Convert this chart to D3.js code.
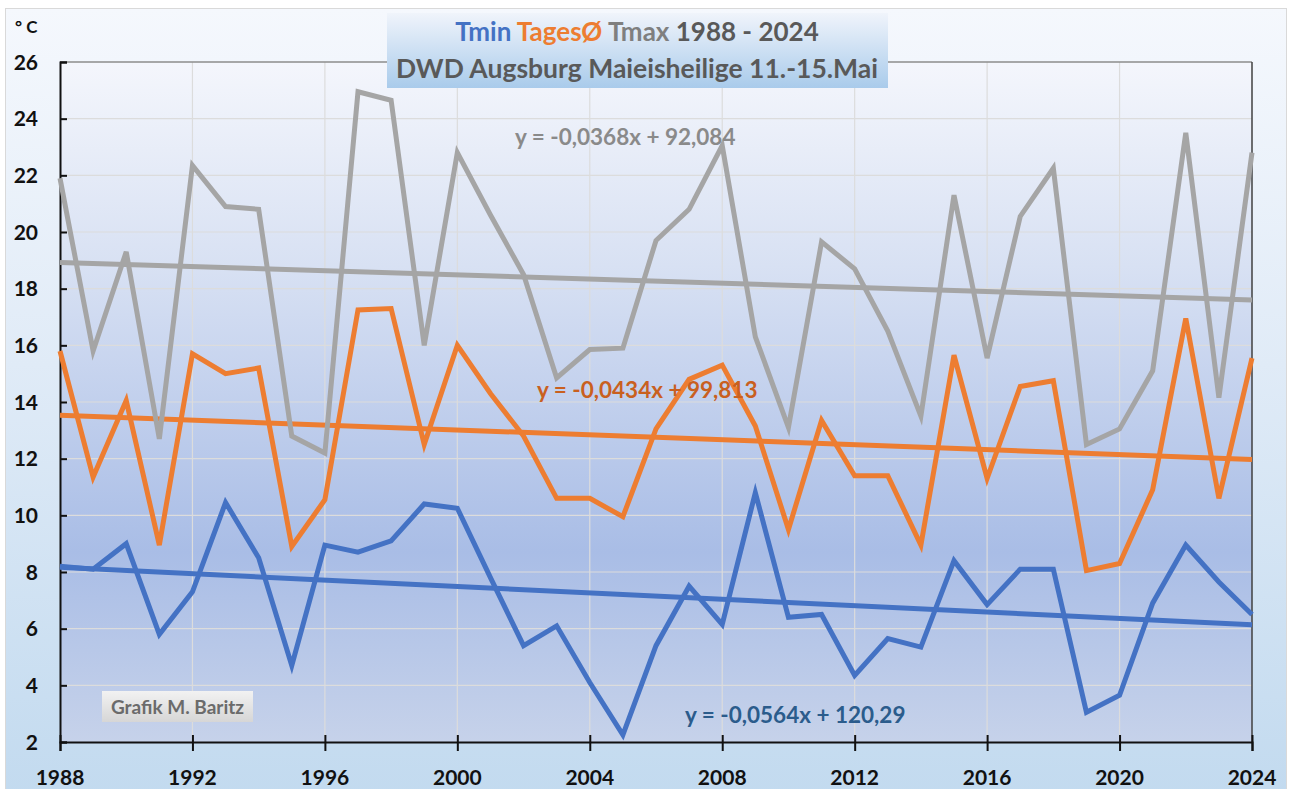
<!DOCTYPE html>
<html>
<head>
<meta charset="utf-8">
<title>Eisheilige Augsburg</title>
<script src="https://cdn.jsdelivr.net/npm/d3@7"></script>
<style>
  body { margin: 0; background: #fff; overflow: hidden; }
  text { font-family: Lato, "Open Sans", sans-serif; font-weight: bold; }
</style>
</head>
<body>
<svg id="chart" width="1290" height="789"></svg>
<script>
// values
var years = [1988, 1989, 1990, 1991, 1992, 1993, 1994, 1995, 1996, 1997, 1998, 1999,
             2000, 2001, 2002, 2003, 2004, 2005, 2006, 2007, 2008, 2009, 2010, 2011,
             2012, 2013, 2014, 2015, 2016, 2017, 2018, 2019, 2020, 2021, 2022, 2023, 2024];
var tmin = [8.2, 8.1, 9.0, 5.8, 7.3, 10.45, 8.5, 4.7, 8.95, 8.7, 9.1, 10.4,
            10.25, 7.8, 5.4, 6.1, 4.1, 2.25, 5.4, 7.5, 6.15, 10.8, 6.4, 6.5,
            4.35, 5.65, 5.35, 8.4, 6.85, 8.1, 8.1, 3.05, 3.65, 6.9, 8.95, 7.65, 6.5];
var tmittel = [15.8, 11.35, 14.05, 8.95, 15.7, 15.0, 15.2, 8.9, 10.55, 17.25, 17.3, 12.5,
               16.0, 14.3, 12.8, 10.6, 10.6, 9.95, 13.05, 14.8, 15.3, 13.15, 9.5, 13.35,
               11.4, 11.4, 8.95, 15.65, 11.3, 14.55, 14.75, 8.05, 8.3, 10.9, 16.95, 10.6, 15.55];
var tmax = [21.9, 15.8, 19.3, 12.7, 22.35, 20.9, 20.8, 12.8, 12.2, 24.95, 24.65, 16.0,
            22.8, 20.6, 18.5, 14.85, 15.85, 15.9, 19.7, 20.8, 23.05, 16.3, 13.1, 19.65,
            18.7, 16.5, 13.5, 21.3, 15.55, 20.55, 22.25, 12.5, 13.05, 15.1, 23.5, 14.15, 22.8];

var trendSlope = [-0.0564, -0.0434, -0.0368];
var trendIntercept = [120.29, 99.813, 92.084];
var trendText = ["y = -0,0564x + 120,29", "y = -0,0434x + 99,813", "y = -0,0368x + 92,084"];

var yTicks = [2, 4, 6, 8, 10, 12, 14, 16, 18, 20, 22, 24, 26];
var xTicks = [1988, 1992, 1996, 2000, 2004, 2008, 2012, 2016, 2020, 2024];

var seriesColors = ["#4472c4", "#ed7d31", "#a5a5a5"];
var labelColors = ["#2b5c8c", "#c9601f", "#8a8a8a"];

(function() {
var svg = d3.select("#chart");
var pLeft = 60, pRight = 1252, pTop = 62, pBottom = 742;

var x = d3.scaleLinear().domain([1988, 2024]).range([pLeft, pRight]);
var y = d3.scaleLinear().domain([2, 26]).range([pBottom, pTop]);

/* gradients */
var defs = svg.append("defs");
function vgrad(id, stops) {
  var g = defs.append("linearGradient").attr("id", id)
      .attr("x1", 0).attr("y1", 0).attr("x2", 0).attr("y2", 1);
  stops.forEach(function(s) {
    g.append("stop").attr("offset", s[0]).attr("stop-color", s[1]);
  });
}
vgrad("bgGrad", [[0, "#f5f8fd"], [0.45, "#e0ebf7"], [1, "#c2daef"]]);
vgrad("plotGrad", [[0, "#f4f6fc"], [0.3, "#d8e1f3"], [0.72, "#a9bde6"], [1, "#c6d2ea"]]);
vgrad("titleGrad", [[0, "#f0f4fb"], [1, "#a9cbeb"]]);
vgrad("noteGrad", [[0, "#f2f2f2"], [1, "#d6d6d6"]]);

// outer chart area
svg.append("rect")
    .attr("x", 5.5).attr("y", 8.5).attr("width", 1281).attr("height", 790)
    .attr("fill", "url(#bgGrad)").attr("stroke", "#d9d9d9");

// plot area
svg.append("rect")
    .attr("x", pLeft).attr("y", pTop).attr("width", pRight - pLeft).attr("height", pBottom - pTop)
    .attr("fill", "url(#plotGrad)");

// grid
svg.append("g").selectAll("line")
    .data(yTicks.slice(1, -1))
  .enter().append("line")
    .attr("x1", pLeft).attr("x2", pRight)
    .attr("y1", function(d) { return y(d); }).attr("y2", function(d) { return y(d); })
    .attr("stroke", "#dcdcdc").attr("stroke-width", 1.2);
svg.append("g").selectAll("line")
    .data(xTicks.slice(1, -1))
  .enter().append("line")
    .attr("y1", pTop).attr("y2", pBottom)
    .attr("x1", function(d) { return x(d); }).attr("x2", function(d) { return x(d); })
    .attr("stroke", "#dcdcdc").attr("stroke-width", 1.2);

// frame top/right
svg.append("line").attr("x1", pLeft).attr("x2", pRight).attr("y1", pTop).attr("y2", pTop)
    .attr("stroke", "#8c8c8c").attr("stroke-width", 1.5);
svg.append("line").attr("x1", pRight).attr("x2", pRight).attr("y1", pTop).attr("y2", pBottom)
    .attr("stroke", "#404040").attr("stroke-width", 1.5);

// axes
var yAxis = svg.append("g").attr("transform", "translate(" + pLeft + ",0)")
    .call(d3.axisRight(y).tickValues(yTicks).tickSize(7).tickFormat(""));
var xAxis = svg.append("g").attr("transform", "translate(0," + pBottom + ")")
    .call(d3.axisBottom(x).tickValues(xTicks).tickSize(9).tickFormat(""));
xAxis.selectAll(".tick line").attr("y1", -7);
[yAxis, xAxis].forEach(function(a) {
  a.select(".domain").attr("stroke", "#111").attr("stroke-width", 2);
  a.selectAll(".tick line").attr("stroke", "#111").attr("stroke-width", 2);
});

svg.append("g").selectAll("text")
    .data(yTicks)
  .enter().append("text")
    .attr("x", 38).attr("y", function(d) { return y(d); })
    .attr("dy", "0.36em").attr("text-anchor", "end")
    .attr("font-size", 21).attr("fill", "#111")
    .text(function(d) { return d; });
svg.append("g").selectAll("text")
    .data(xTicks)
  .enter().append("text")
    .attr("x", function(d) { return x(d); }).attr("y", 777)
    .attr("dy", "0.36em").attr("text-anchor", "middle")
    .attr("font-size", 21).attr("fill", "#111")
    .text(function(d) { return d; });

svg.append("text").attr("x", 15).attr("y", 33)
    .attr("font-size", 17).attr("fill", "#111").text("° C");

// data lines and trends
var series = [tmin, tmittel, tmax];
var line = d3.line()
    .x(function(d) { return x(d[0]); })
    .y(function(d) { return y(d[1]); });

series.forEach(function(vals, i) {
  var first = years[0], last = years[years.length - 1];
  svg.append("path")
      .datum([[first, trendSlope[i] * first + trendIntercept[i]],
              [last, trendSlope[i] * last + trendIntercept[i]]])
      .attr("d", line)
      .attr("fill", "none").attr("stroke", seriesColors[i]).attr("stroke-width", 5);
});
series.forEach(function(vals, i) {
  svg.append("path")
      .datum(years.map(function(yr, k) { return [yr, vals[k]]; }))
      .attr("d", line)
      .attr("fill", "none").attr("stroke", seriesColors[i]).attr("stroke-width", 5)
      .attr("stroke-linejoin", "miter");
});

// trend equations
var eqPos = [[685, 715], [537, 390], [515, 137]];
svg.append("g").selectAll("text")
    .data(trendText)
  .enter().append("text")
    .attr("x", function(d, i) { return eqPos[i][0]; })
    .attr("y", function(d, i) { return eqPos[i][1]; })
    .attr("dy", "0.36em")
    .attr("font-size", 22.5)
    .attr("fill", function(d, i) { return labelColors[i]; })
    .text(function(d) { return d; });

// title box
svg.append("rect").attr("x", 387).attr("y", 13).attr("width", 501).attr("height", 75)
    .attr("fill", "url(#titleGrad)");
var t1 = svg.append("text").attr("x", 637).attr("y", 32).attr("dy", "0.36em")
    .attr("text-anchor", "middle").attr("font-size", 26);
[["Tmin ", "#4472c4"], ["TagesØ ", "#ed7d31"], ["Tmax ", "#7f7f7f"], ["1988 - 2024", "#595959"]]
  .forEach(function(p) { t1.append("tspan").attr("fill", p[1]).text(p[0]); });
svg.append("text").attr("x", 637).attr("y", 68).attr("dy", "0.36em")
    .attr("text-anchor", "middle").attr("font-size", 26.5).attr("fill", "#595959")
    .text("DWD Augsburg Maieisheilige 11.-15.Mai");

// author note
svg.append("rect").attr("x", 102).attr("y", 691).attr("width", 151).attr("height", 31)
    .attr("fill", "url(#noteGrad)");
svg.append("text").attr("x", 177.5).attr("y", 707).attr("dy", "0.36em")
    .attr("text-anchor", "middle").attr("font-size", 19).attr("fill", "#6b6b6b")
    .text("Grafik M. Baritz");
})();
</script>
</body>
</html>
